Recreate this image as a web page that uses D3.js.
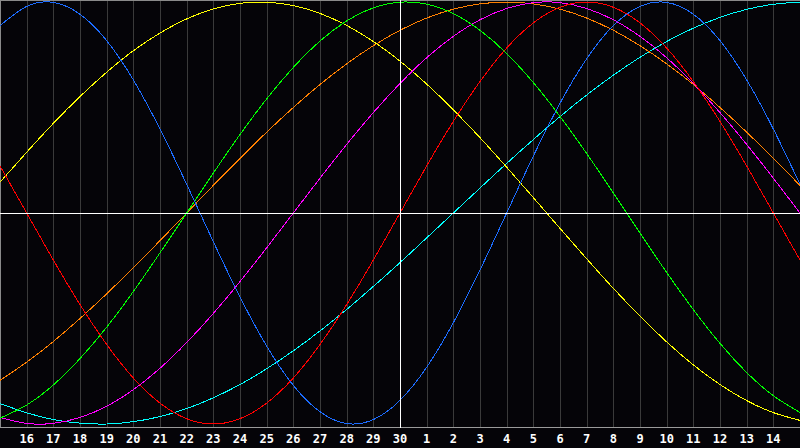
<!DOCTYPE html>
<html>
<head>
<meta charset="utf-8">
<script src="https://cdn.jsdelivr.net/npm/d3@7/dist/d3.min.js"></script>
<style>
  html, body { margin: 0; padding: 0; background: #000; }
  svg { display: block; }
</style>
</head>
<body>
<svg id="chart" width="800" height="448"></svg>
<script>
// Day labels across the window (index 0 and 30 are the edges, unlabelled)
const days = [15,16,17,18,19,20,21,22,23,24,25,26,27,28,29,30,1,2,3,4,5,6,7,8,9,10,11,12,13,14,15];
const todayIndex = 15;

// Series values per day, -1 .. 1
const blue    = [0.888,0.979,0.998,0.942,0.817,0.631,0.398,0.136,-0.136,-0.398,-0.631,-0.817,-0.942,-0.998,-0.979,-0.888,-0.731,-0.520,-0.270,0,0.270,0.520,0.731,0.888,0.979,0.998,0.942,0.817,0.631,0.398,0.136];
const red     = [0.223,0,-0.223,-0.434,-0.623,-0.782,-0.901,-0.975,-1,-0.975,-0.901,-0.782,-0.623,-0.434,-0.223,0,0.223,0.434,0.623,0.782,0.901,0.975,1,0.975,0.901,0.782,0.623,0.434,0.223,0,-0.223];
const green   = [-0.972,-0.910,-0.815,-0.690,-0.541,-0.372,-0.189,0,0.189,0.372,0.541,0.690,0.815,0.910,0.972,0.999,0.990,0.945,0.866,0.756,0.618,0.458,0.282,0.095,-0.095,-0.282,-0.458,-0.618,-0.756,-0.866,-0.945];
const magenta = [-0.969,-0.997,-0.997,-0.969,-0.916,-0.837,-0.736,-0.614,-0.476,-0.325,-0.165,0,0.165,0.325,0.476,0.614,0.736,0.837,0.916,0.969,0.997,0.997,0.969,0.916,0.837,0.736,0.614,0.476,0.325,0.165,0];
const yellow  = [0.146,0.288,0.425,0.552,0.667,0.769,0.853,0.920,0.967,0.994,0.999,0.983,0.946,0.889,0.813,0.720,0.611,0.489,0.357,0.217,0.073,-0.073,-0.217,-0.357,-0.489,-0.611,-0.720,-0.813,-0.889,-0.946,-0.983];
const orange  = [-0.793,-0.707,-0.609,-0.500,-0.383,-0.259,-0.131,0,0.131,0.259,0.383,0.500,0.609,0.707,0.793,0.866,0.924,0.966,0.991,1,0.991,0.966,0.924,0.866,0.793,0.707,0.609,0.500,0.383,0.259,0.131];
const cyan    = [-0.903,-0.947,-0.979,-0.996,-1.000,-0.989,-0.965,-0.927,-0.876,-0.813,-0.738,-0.653,-0.559,-0.457,-0.348,-0.235,-0.118,0,0.118,0.235,0.348,0.457,0.559,0.653,0.738,0.813,0.876,0.927,0.965,0.989,1.000];

const seriesNames  = ["cyan","orange","yellow","magenta","green","red","blue"];
const seriesValues = [cyan, orange, yellow, magenta, green, red, blue];
const seriesColors = ["#00ffff","#ff8000","#ffff00","#ff00ff","#00ff00","#ff0000","#1c6cff"];

const svg = d3.select("#chart");
const W = 800, H = 448;
const axisY = 427.5;

svg.append("rect").attr("width", W).attr("height", H).attr("fill", "#050408");

const x = d3.scaleLinear().domain([0, days.length - 1]).range([0, 800]);
const y = d3.scaleLinear().domain([-1, 1]).range([424, 2]);

// vertical day grid
svg.append("g").selectAll("line")
  .data(d3.range(1, days.length - 1))
  .join("line")
  .attr("x1", i => Math.round(x(i)) + 0.5).attr("x2", i => Math.round(x(i)) + 0.5)
  .attr("y1", 0).attr("y2", axisY)
  .attr("stroke", "#3a3a3a").attr("stroke-width", 1)
  .attr("shape-rendering", "crispEdges");

// border (top, left) and bottom axis line
svg.append("line").attr("x1", 0).attr("x2", W).attr("y1", 0.5).attr("y2", 0.5)
  .attr("stroke", "#8a8a8a").attr("shape-rendering", "crispEdges");
svg.append("line").attr("x1", 0.5).attr("x2", 0.5).attr("y1", 0).attr("y2", axisY)
  .attr("stroke", "#8a8a8a").attr("shape-rendering", "crispEdges");
svg.append("line").attr("x1", 0).attr("x2", W).attr("y1", axisY).attr("y2", axisY)
  .attr("stroke", "#9a9a9a").attr("shape-rendering", "crispEdges");

// curves
const line = d3.line()
  .x((v, i) => x(i))
  .y(v => y(v))
  .curve(d3.curveNatural);

svg.append("g").selectAll("path")
  .data(seriesValues)
  .join("path")
  .attr("d", d => line(d))
  .attr("fill", "none")
  .attr("stroke", (d, i) => seriesColors[i])
  .attr("stroke-width", 1)
  .attr("shape-rendering", "crispEdges");

// zero line and today line
svg.append("line").attr("x1", 0).attr("x2", W)
  .attr("y1", Math.round(y(0)) + 0.5).attr("y2", Math.round(y(0)) + 0.5)
  .attr("stroke", "#ffffff").attr("shape-rendering", "crispEdges");
svg.append("line")
  .attr("x1", Math.round(x(todayIndex)) + 0.5).attr("x2", Math.round(x(todayIndex)) + 0.5)
  .attr("y1", 0).attr("y2", axisY)
  .attr("stroke", "#ffffff").attr("shape-rendering", "crispEdges");

// day labels
svg.append("g").selectAll("text")
  .data(d3.range(1, days.length - 1))
  .join("text")
  .attr("x", i => x(i))
  .attr("y", 443)
  .attr("text-anchor", "middle")
  .attr("fill", "#ffffff")
  .attr("font-family", "DejaVu Sans Mono, monospace")
  .attr("font-weight", "bold")
  .attr("font-size", 12)
  .text(i => days[i]);
</script>
</body>
</html>
